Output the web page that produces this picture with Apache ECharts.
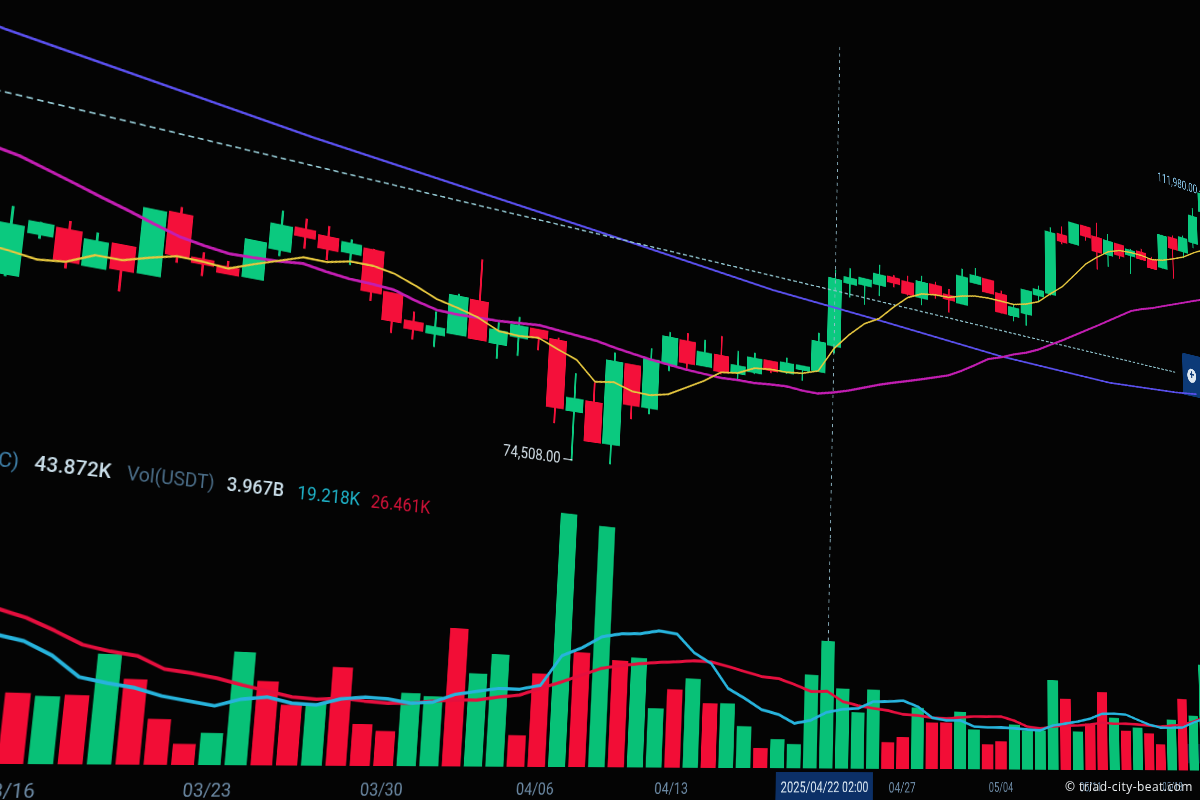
<!DOCTYPE html>
<html><head><meta charset="utf-8">
<style>
html,body{margin:0;padding:0;background:#040404;width:1200px;height:800px;overflow:hidden}
#chart{position:absolute;left:0;top:0;width:2400px;height:1600px;transform-origin:0 0}
#mark{position:absolute;left:1065px;top:778px;color:#e8ecee;font:12px "Open Sans",sans-serif;letter-spacing:.45px;white-space:nowrap}
</style>
<script src="https://cdn.jsdelivr.net/npm/echarts@6/dist/echarts.min.js"></script>
</head><body>
<div id="chart"></div>
<div id="mark">© triad-city-beat.com</div>
<script>
// ---------- data ----------
const categories = ['03/11','03/12','03/13','03/14','03/15','03/16','03/17','03/18','03/19','03/20','03/21','03/22','03/23','03/24','03/25','03/26','03/27','03/28','03/29','03/30','03/31','04/01','04/02','04/03','04/04','04/05','04/06','04/07','04/08','04/09','04/10','04/11','04/12','04/13','04/14','04/15','04/16','04/17','04/18','04/19','04/20','04/21','04/22','04/23','04/24','04/25','04/26','04/27','04/28','04/29','04/30','05/01','05/02','05/03','05/04','05/05','05/06','05/07','05/08','05/09','05/10','05/11','05/12','05/13','05/14','05/15','05/16','05/17','05/18','05/19','05/20','05/21','05/22','05/23'];
const tickLabels = ['03/16','03/23','03/30','04/06','04/13','04/27','05/04','05/11','05/18'];
const opens = [null,null,null,81230,84010,84580,82600,84250,82760,87010,84320,84120,83770,86010,87700,87510,86760,87240,84470,82730,82200,82440,85090,82290,83050,83820,83300,78260,79100,76190,82450,79400,83110,85110,83450,84480,83360,83680,84800,84170,84650,84780,87200,92900,93070,93410,94300,94210,93140,94550,93930,93480,95710,96280,95230,93500,94000,96060,96500,102610,102100,104120,103360,101970,103290,102550,103160,102740,102220,105650,104580,105860,109500,null];
const closes = [null,null,null,84240,84660,82650,84180,82720,86920,84310,84070,83740,86220,87640,87240,86710,87360,84340,82570,82250,82610,85150,82350,83210,83830,83310,78330,79130,76180,82460,79400,83150,85150,83430,84450,83230,83900,84780,84080,84890,84900,87220,92950,93320,93570,94250,93880,93190,94510,93780,93580,95940,96330,95120,93530,94220,96180,96520,102490,101960,104070,103180,101940,103300,102230,103030,102480,101860,105560,104560,105980,108660,111400,null];
const lows = [null,null,null,81050,83710,82170,82540,81310,82700,83800,83250,83700,83750,85550,86380,85910,85890,83670,81690,81500,81230,82370,82300,81160,81630,82310,77100,74508,76150,74640,78290,78880,82500,82820,83420,83000,82810,83520,83850,84010,83690,84750,86540,91660,91310,92400,93460,93020,92450,93340,92370,93450,95620,95030,93440,92960,92830,95430,96320,101680,102010,102710,100140,100730,101850,100620,102380,101770,102130,101400,103890,105260,109100,null];
const highs = [null,null,null,85420,84780,85180,84790,84300,86990,87510,84830,84570,86290,88680,88490,88300,87700,87370,84500,83480,83780,85360,88240,83840,84540,83890,83520,81090,80630,83190,82530,84050,85610,85800,85530,86100,85160,85260,84820,85370,84950,88030,93770,94230,93650,95180,94560,94810,95120,94900,94540,96730,97120,96370,95590,94570,96270,96980,103040,103450,104160,104150,104870,104070,103380,103220,103550,103030,105660,105950,106280,109570,111980,null];
const volumes = [null,null,null,15,6,17.6,17.0,17.5,28.3,22.1,11.9,5.5,8.5,30.5,22.8,16.5,17.2,27.5,11.7,9.9,20.9,20.2,40.5,27.4,33.4,9.4,28.2,78.6,35.3,75.8,33.4,34.6,18.7,25.0,28.7,20.9,21.1,13.7,6.6,9.7,8.1,31.9,43.872,27.6,19.5,27.7,9.3,11.2,21.9,16.7,16.9,21.0,14.6,9.2,10.4,16.8,14.7,14.9,34.4,27.4,14.8,18.1,30.7,20.7,15.7,17.0,14.8,10.5,20.7,29.4,22.6,44.2,35,null];
const volMaFast = [null,null,null,33,32,30.6,27.3,22.1,20.8,19.8,17.9,16.8,15.7,17.7,18.5,17.0,16.7,18.6,19.3,19.0,18.0,18.5,21.0,22.1,23.2,23.2,24.6,34.0,36.8,40.6,41.9,42.3,43.6,43.0,37.2,33.9,26.0,22.9,19.4,18.0,15.1,16.3,19.218,20.4,20.9,23.5,23.7,24.2,22.3,18.5,17.6,17.8,15.7,15.5,15.6,15.4,15.1,14.9,16.9,17.8,18.7,20.0,22.1,22.3,22.1,20.2,18.4,17.3,17.4,17.6,19.8,21.6,23,null];
const volMaSlow = [null,null,null,40,38.4,36.5,33.6,30.4,29.0,28.1,25.0,24.2,23.1,21.5,20.1,18.7,18.3,18.8,18.2,17.8,18.0,18.8,19.3,19.5,20.6,21.4,23.7,25.8,28.2,30.6,31.8,32.7,33.4,33.9,34.6,34.5,33.2,31.8,30.4,30.0,28.2,26.1,26.461,23.1,21.9,21.1,20.5,19.3,19.1,18.5,18.3,18.9,19.4,19.5,19.7,18.3,16.2,15.6,16.5,17.0,17.2,17.7,18.6,18.3,18.5,18.3,18.0,17.7,18.3,18.8,20.2,22.0,23,null];
const maFast = [null,null,82830,82650,82400,82590,83330,83330,83820,84240,84200,84060,84670,85230,85790,85780,86150,86160,85890,85320,84670,84320,83900,83210,83120,83240,82650,82100,80700,80910,80440,80370,80680,81450,82220,83160,83360,84000,84160,84170,84330,84780,86950,88420,89640,90380,91680,92850,93480,93690,93760,94180,94480,94590,94600,94570,94910,95430,96500,97500,98920,100350,101370,102250,102710,102840,102870,102740,103010,103470,103990,104760,105400,null];
const maMid = [null,null,88900,88600,88100,87600,87070,86580,86050,85550,85260,85050,85110,85190,85360,85110,84930,84870,84760,84280,83910,83850,83910,83950,84070,84200,84070,83950,83820,83550,83340,83150,83010,82870,82790,82710,82780,82780,82910,82990,82880,82870,83190,83590,84070,84560,84980,85380,85780,86200,86630,87310,88080,88890,89310,89840,90270,90830,91560,92270,93020,93780,94530,95310,96080,96850,97330,97730,98220,98700,99180,99660,100100,null];
const maSlow = [96790,null,96330,null,null,null,null,null,null,null,null,null,null,null,94220,null,null,null,null,null,null,null,null,null,null,null,null,null,92270,null,null,null,null,null,null,null,null,null,90800,null,null,null,null,null,null,90240,null,null,null,null,null,null,null,null,89400,null,null,null,null,null,null,null,null,89120,null,null,null,null,null,89600,null,89880,null,null];
const trendLine = [[0,92400],[69,91660]];
const crossDay = '04/22';
const crossTime = '2025/04/22 02:00';
const legendTexts = ['(BTC)','43.872K','Vol(USDT)','3.967B','19.218K','26.461K'];
const lowLabel = '74,508.00 ─', highLabel = '111,980.00 -';

// ---------- colours ----------
const UP='#0bc97f', DOWN='#f4103a', VUP='#08c177', VDOWN='#f20d36';

// ---------- the photographed screen: flat chart seen in perspective ----------
const A=2950,B=13510,LEAN=0.112,HOR=780,X0=200,Y0=1500;
const G=LEAN/A+1/B, M=1-X0/A+G*Y0;
document.getElementById('chart').style.transform='matrix3d('+[1,HOR/A,0,1/A, -LEAN,1-HOR*G,0,-G, 0,0,1,0, -X0+LEAN*Y0,HOR*M-Y0,0,M].join(',')+')';

const chart=echarts.init(document.getElementById('chart'),null,{width:2400,height:1600});
const candles=categories.map((c,i)=>opens[i]==null?'-':[opens[i],closes[i],lows[i],highs[i]]);
const volBars=volumes.map((v,i)=>v==null?null:{value:v,itemStyle:{color:closes[i]>=opens[i]?VUP:VDOWN}});
const line=(name,data,color,width,axis,extra)=>Object.assign({type:'line',name,data,xAxisIndex:axis,yAxisIndex:axis,showSymbol:false,symbol:'none',connectNulls:true,lineStyle:{color,width},silent:true,z:3},extra||{});
const legendSpec=[[-17,'#3f7fa8','right',400],[-1,'#c9dde8','left',500],[99,'#4a6c86','left',400],[215,'#c9dde8','left',500],[302,'#1fb4ca','left',400],[398,'#cf1238','left',400]];
const rowY=[1173,1173,1173,1173,1174,1175];

chart.setOption({
 animation:false,
 backgroundColor:'#040404',
 grid:[{left:39.4,width:2275.5,top:31.3,height:1123.6},{left:39.4,width:2275.5,top:1156,height:328}],
 xAxis:[
  {type:'category',gridIndex:0,data:categories,show:false},
  {type:'category',gridIndex:1,data:categories,axisLine:{show:false},axisTick:{show:false},splitLine:{show:false},
   axisLabel:{color:'#6d8ba6',fontSize:21,fontFamily:'Roboto',margin:18,hideOverlap:false,interval:(i,v)=>tickLabels.includes(v)}}
 ],
 yAxis:[
  {type:'value',gridIndex:0,min:71000,max:134000,show:false,splitLine:{show:false}},
  {type:'value',gridIndex:1,min:0,max:80,show:false,splitLine:{show:false}}
 ],
 series:[
  {type:'candlestick',name:'BTC',data:candles,xAxisIndex:0,yAxisIndex:0,barWidth:'84%',z:2,
   itemStyle:{color:UP,color0:DOWN,borderColor:UP,borderColor0:DOWN,borderWidth:3},
   markPoint:{symbol:'circle',symbolSize:0,silent:true,data:[
     {coord:['04/07',74508],label:{show:true,position:'left',distance:-1,formatter:lowLabel,color:'#d5e2ea',fontSize:20,fontFamily:'Roboto'}},
     {coord:['05/22',111980],label:{show:true,position:'left',distance:2,offset:[0,6],formatter:highLabel,color:'#86c3e6',fontSize:24,fontFamily:'Roboto'}}
   ]}},
  line('MA99',maSlow,'#5a50ee',3,0),
  line('Trend',trendLine,'#8fc2cc',2,0,{lineStyle:{color:'#8fc2cc',width:2,type:[7,4.5]}}),
  line('MA25',maMid,'#c21eb2',3.5,0),
  line('MA7',maFast,'#e6c73f',2.5,0),
  line('Cross',[[crossDay,71000],[crossDay,113900]],'#93bccb',1.6,0,{lineStyle:{color:'#93bccb',width:1.6,type:[5,6]}}),
  line('CrossV',[[crossDay,volumes[categories.indexOf(crossDay)]],[crossDay,80]],'#93bccb',1.6,1,{lineStyle:{color:'#93bccb',width:1.6,type:[5,6]}}),
  {type:'bar',name:'Vol',data:volBars,xAxisIndex:1,yAxisIndex:1,barWidth:'85%',z:2,
   markPoint:{symbol:'circle',symbolSize:0,silent:true,data:[
     {coord:[crossDay,0],label:{show:true,position:'bottom',distance:5,formatter:crossTime,color:'#dbe8f2',fontSize:21,fontFamily:'Roboto',backgroundColor:'#0c3067',padding:[12,9,12,9]}}
   ]}},
  line('VolMA10',volMaSlow,'#e40f3e',4,1),
  line('VolMA5',volMaFast,'#27b3dc',4,1)
 ],
 graphic:legendTexts.map((t,i)=>({type:'text',x:legendSpec[i][0]+X0,y:rowY[i],silent:true,
    style:{text:t,fill:legendSpec[i][1],font:legendSpec[i][3]+' 22px Roboto',textAlign:legendSpec[i][2],textVerticalAlign:'middle'}})).concat([
   {type:'rect',shape:{x:2198,y:747,width:130,height:77,r:4},style:{fill:'#0c3a78'},silent:true},
   {type:'circle',shape:{cx:2225,cy:786,r:13},style:{fill:'#dfe9f2'},silent:true},
   {type:'text',x:2225,y:786,silent:true,style:{text:'+',fill:'#0c3a78',font:'bold 24px Roboto',textAlign:'center',textVerticalAlign:'middle'}},
   {type:'rect',shape:{x:2178,y:1439,width:130,height:33},style:{fill:'#0a2036'},silent:true},
   {type:'text',x:2208,y:1455,silent:true,style:{text:'»',fill:'#3b86c6',font:'28px Roboto',textAlign:'center',textVerticalAlign:'middle'}}
 ])
});
</script>
</body></html>
